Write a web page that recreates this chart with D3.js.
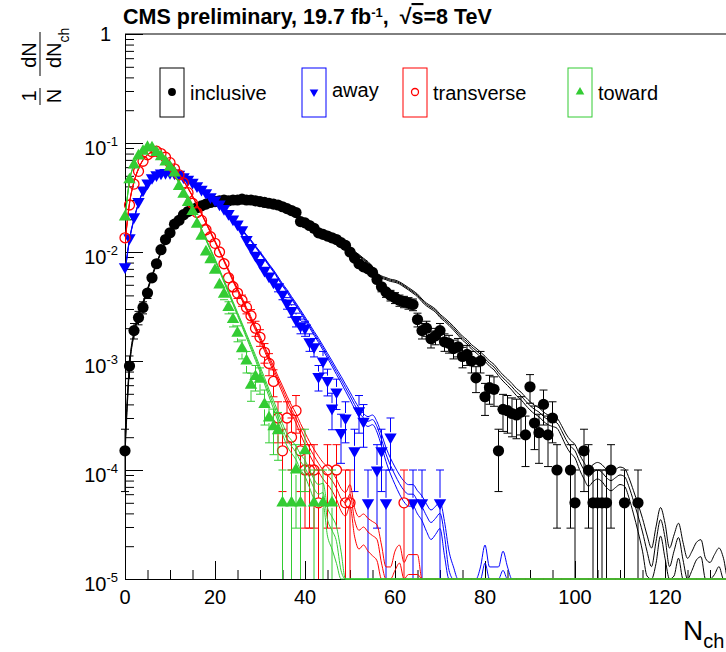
<!DOCTYPE html>
<html>
<head>
<meta charset="utf-8">
<script src="https://cdn.jsdelivr.net/npm/d3@7"></script>
<style>
  body { margin: 0; background: #fff; }
  svg { display: block; font-family: "Liberation Sans", Arial, Helvetica, sans-serif; }
</style>
</head>
<body>
<svg id="chart" width="726" height="652"></svg>
<script>
// ---- data: one value per Nch bin, starting at Nch = 0 (0 = empty bin) ----
const seriesNames = ["inclusive", "away", "transverse", "toward"];
const seriesColors = ["#000000", "#0000ff", "#ff0000", "#33cc33"];

const inclusiveData = [
  1.5e-4, 9e-4, 1.9e-3, 2.5e-3, 3.1e-3, 4.2e-3, 5.8e-3, 7.8e-3, 1.05e-2, 1.3e-2,
  1.5e-2, 1.8e-2, 1.95e-2, 2.2e-2, 2.35e-2, 2.45e-2, 2.55e-2, 2.65e-2, 2.75e-2, 2.85e-2,
  2.9e-2, 2.95e-2, 3.0e-2, 2.95e-2, 3.0e-2, 3.0e-2, 3.05e-2, 3.0e-2, 3.0e-2, 2.95e-2,
  2.9e-2, 2.85e-2, 2.8e-2, 2.75e-2, 2.7e-2, 2.6e-2, 2.5e-2, 2.4e-2, 2.3e-2, 1.9e-2,
  1.85e-2, 1.75e-2, 1.65e-2, 1.5e-2, 1.45e-2, 1.4e-2, 1.35e-2, 1.3e-2, 1.22e-2, 1.15e-2,
  1.0e-2, 8.8e-3, 7.8e-3, 7.3e-3, 7.0e-3, 6.5e-3, 5.6e-3, 4.8e-3, 4.3e-3, 4.0e-3,
  3.8e-3, 3.6e-3, 3.5e-3, 3.4e-3, 3.3e-3, 2.4e-3, 1.9e-3, 2.0e-3, 1.6e-3, 1.7e-3,
  1.9e-3, 1.5e-3, 1.45e-3, 1.3e-3, 1.35e-3, 1.1e-3, 1.15e-3, 1.0e-3, 7e-4, 1.0e-3,
  4.7e-4, 5.7e-4, 5.5e-4, 1.5e-4, 3.6e-4, 3.5e-4, 3.3e-4, 3.2e-4, 3.4e-4, 2.1e-4,
  5.8e-4, 2.7e-4, 2.2e-4, 4.0e-4, 2.1e-4, 3.0e-4, 1e-4, 0, 0, 1e-4,
  5e-5, 0, 1.5e-4, 1e-4, 5e-5, 5e-5, 5e-5, 5e-5, 1e-4, 0,
  0, 5e-5, 0, 0, 5e-5
];
const inclusiveModel = [
  1.6e-4, 9e-4, 1.8e-3, 2.6e-3, 3.4e-3, 4.5e-3, 6e-3, 7.8e-3, 1.0e-2, 1.25e-2,
  1.5e-2, 1.75e-2, 1.95e-2, 2.15e-2, 2.3e-2, 2.45e-2, 2.55e-2, 2.65e-2, 2.75e-2, 2.85e-2,
  2.9e-2, 2.95e-2, 3.0e-2, 3.0e-2, 3.0e-2, 3.0e-2, 3.0e-2, 2.95e-2, 2.9e-2, 2.85e-2,
  2.8e-2, 2.75e-2, 2.7e-2, 2.6e-2, 2.5e-2, 2.45e-2, 2.35e-2, 2.25e-2, 2.15e-2, 2.05e-2,
  1.95e-2, 1.85e-2, 1.75e-2, 1.65e-2, 1.55e-2, 1.45e-2, 1.38e-2, 1.3e-2, 1.22e-2, 1.15e-2,
  1.08e-2, 1.0e-2, 9.3e-3, 8.6e-3, 8.0e-3, 7.2e-3, 6.3e-3, 5.9e-3, 5.7e-3, 5.5e-3,
  5.4e-3, 5.2e-3, 4.9e-3, 4.6e-3, 4.3e-3, 4.0e-3, 3.6e-3, 3.3e-3, 3.1e-3, 2.9e-3,
  2.6e-3, 2.4e-3, 2.2e-3, 2.0e-3, 1.8e-3, 1.62e-3, 1.5e-3, 1.35e-3, 1.25e-3, 1.15e-3,
  1.05e-3, 9.5e-4, 8.8e-4, 7.8e-4, 7e-4, 6.4e-4, 5.8e-4, 5.2e-4, 4.8e-4, 4.3e-4,
  3.9e-4, 3.6e-4, 3.4e-4, 3.1e-4, 2.9e-4, 2.8e-4, 2.7e-4, 2.3e-4, 1.9e-4, 1.65e-4,
  1.5e-4, 1.2e-4, 1.0e-4, 8.7e-5, 9.5e-5, 1.0e-4, 9.5e-5, 8.5e-5, 8e-5, 8.5e-5,
  9e-5, 8.7e-5, 7e-5, 5.2e-5, 3.8e-5, 2.7e-5, 1.8e-5, 1.3e-5, 2.2e-5, 3.5e-5,
  2.4e-5, 1.3e-5, 1.8e-5, 2.4e-5, 1.5e-5, 1e-5, 1.2e-5, 1.5e-5, 1.6e-5, 1e-5,
  9e-6, 1.1e-5, 1.3e-5, 1e-5
];

const awayData = [
  7.3e-3, 1.35e-2, 2.1e-2, 2.9e-2, 3.7e-2, 4.3e-2, 4.8e-2, 5.1e-2, 5.3e-2, 5.35e-2,
  5.35e-2, 5.3e-2, 5.15e-2, 4.9e-2, 4.65e-2, 4.35e-2, 4.05e-2, 3.75e-2, 3.5e-2, 3.2e-2,
  3.0e-2, 2.75e-2, 2.5e-2, 2.25e-2, 2.0e-2, 1.8e-2, 1.6e-2, 1.3e-2, 1.1e-2, 9.3e-3,
  8e-3, 6.8e-3, 6.0e-3, 5.3e-3, 4.8e-3, 4.1e-3, 3.4e-3, 2.9e-3, 2.4e-3, 2.1e-3,
  2.0e-3, 1.5e-3, 1.35e-3, 7.2e-4, 1.0e-3, 6.6e-4, 3.7e-4, 5.2e-4, 2.2e-4, 3.0e-4,
  0, 1.5e-4, 3.5e-4, 2.8e-4, 5e-5, 0, 1e-4, 1.5e-4, 5e-5, 2e-4,
  0, 0, 0, 0, 5e-5, 0, 5e-5, 0, 0, 0,
  5e-5
];
const awayModel = [
  6.5e-3, 1.3e-2, 2.0e-2, 2.8e-2, 3.6e-2, 4.2e-2, 4.7e-2, 5.0e-2, 5.2e-2, 5.3e-2,
  5.3e-2, 5.2e-2, 5.05e-2, 4.85e-2, 4.6e-2, 4.35e-2, 4.05e-2, 3.75e-2, 3.45e-2, 3.15e-2,
  2.9e-2, 2.65e-2, 2.4e-2, 2.2e-2, 2.0e-2, 1.8e-2, 1.6e-2, 1.42e-2, 1.27e-2, 1.12e-2,
  9.9e-3, 8.7e-3, 7.6e-3, 6.7e-3, 5.8e-3, 5.0e-3, 4.4e-3, 3.8e-3, 3.3e-3, 2.85e-3,
  2.45e-3, 2.1e-3, 1.8e-3, 1.55e-3, 1.32e-3, 1.12e-3, 9.5e-4, 8e-4, 6.8e-4, 5.7e-4,
  4.8e-4, 4.0e-4, 3.4e-4, 3.0e-4, 2.8e-4, 2.9e-4, 2.5e-4, 1.9e-4, 1.4e-4, 1.1e-4,
  9e-5, 7.5e-5, 6.5e-5, 6e-5, 6e-5, 5.2e-5, 4.6e-5, 3.8e-5, 3.3e-5, 3.6e-5,
  4e-5, 2.5e-5, 1.2e-5, 8e-6, 0, 0, 0, 0, 0, 8e-6,
  1.4e-5, 8e-6, 8e-6, 8e-6, 1.2e-5, 8e-6
];

const transverseData = [
  1.35e-2, 2.7e-2, 4.2e-2, 5.5e-2, 6.8e-2, 7.8e-2, 8.3e-2, 8.4e-2, 8.0e-2, 7.4e-2,
  6.6e-2, 5.8e-2, 5.1e-2, 4.3e-2, 3.5e-2, 2.8e-2, 2.3e-2, 1.95e-2, 1.6e-2, 1.38e-2,
  1.2e-2, 1.0e-2, 7.8e-3, 5.8e-3, 4.8e-3, 4.2e-3, 3.6e-3, 3.1e-3, 2.6e-3, 2.0e-3,
  1.65e-3, 1.2e-3, 9.5e-4, 6.5e-4, 3.0e-4, 1.5e-4, 3.0e-4, 2.0e-4, 3.5e-4, 1.5e-4,
  1e-4, 1e-4, 1e-4, 5e-5, 0, 1e-4, 0, 1e-4, 0, 5e-5,
  5e-5, 0, 0, 0, 0, 0, 0, 0, 0, 0,
  0, 0, 5e-5
];
const transverseModel = [
  1.2e-2, 2.8e-2, 4.4e-2, 5.8e-2, 7.0e-2, 7.8e-2, 8.2e-2, 8.2e-2, 7.9e-2, 7.4e-2,
  6.7e-2, 6.0e-2, 5.2e-2, 4.5e-2, 3.85e-2, 3.25e-2, 2.7e-2, 2.25e-2, 1.85e-2, 1.52e-2,
  1.25e-2, 1.02e-2, 8.3e-3, 6.8e-3, 5.5e-3, 4.5e-3, 3.7e-3, 3.0e-3, 2.45e-3, 2.0e-3,
  1.62e-3, 1.3e-3, 1.05e-3, 8.5e-4, 6.8e-4, 5.5e-4, 4.4e-4, 3.6e-4, 3.0e-4, 2.4e-4,
  1.95e-4, 1.6e-4, 1.35e-4, 1.15e-4, 1.0e-4, 9e-5, 8e-5, 6.8e-5, 5.5e-5, 5e-5,
  6e-5, 3.5e-5, 2.8e-5, 3e-5, 2.7e-5, 2.5e-5, 2.3e-5, 1.4e-5, 8e-6, 8e-6,
  1.2e-5, 1.4e-5, 9e-6, 1.1e-5, 1.1e-5, 1.1e-5
];

const towardData = [
  2.1e-2, 4.6e-2, 6.3e-2, 7.6e-2, 8.4e-2, 9.1e-2, 9.0e-2, 8.2e-2, 7.5e-2, 6.7e-2,
  6.0e-2, 5.3e-2, 4.0e-2, 3.4e-2, 2.85e-2, 2.35e-2, 1.8e-2, 1.4e-2, 1.0e-2, 8.5e-3,
  6.8e-3, 5.0e-3, 4.1e-3, 3.1e-3, 2.4e-3, 1.8e-3, 1.3e-3, 1.0e-3, 6.0e-4, 7.2e-4,
  6.8e-4, 4.0e-4, 3.0e-4, 2.5e-4, 2.3e-4, 5e-5, 0, 5e-5, 1e-4, 5e-5,
  1.5e-4, 0, 5e-5, 0, 5e-5, 0, 5e-5
];
const towardModel = [
  2.0e-2, 4.5e-2, 6.3e-2, 7.7e-2, 8.6e-2, 9.0e-2, 8.9e-2, 8.4e-2, 7.7e-2, 6.9e-2,
  6.0e-2, 5.1e-2, 4.3e-2, 3.6e-2, 3.0e-2, 2.45e-2, 2.0e-2, 1.62e-2, 1.3e-2, 1.05e-2,
  8.5e-3, 6.8e-3, 5.4e-3, 4.3e-3, 3.4e-3, 2.7e-3, 2.15e-3, 1.7e-3, 1.35e-3, 1.07e-3,
  8.4e-4, 6.6e-4, 5.1e-4, 4e-4, 3.1e-4, 2.4e-4, 1.9e-4, 1.65e-4, 1.45e-4, 1.2e-4,
  1.05e-4, 8.5e-5, 6.8e-5, 6e-5, 6.2e-5, 3.5e-5, 2.8e-5, 2.2e-5, 1.2e-5
];

const xTicksMajor = [0, 20, 40, 60, 80, 100, 120, 140];
const xLabels = [0, 20, 40, 60, 80, 100, 120];
const yExponents = [0, -1, -2, -3, -4, -5];
const eventWeight = 5e-5;   // weight of one event (lowest filled bins)
const modelWeight = 3e-6;   // weight of one simulated event (model band spread)

// ---- layout ----
var svg = d3.select("#chart");
var frame = { left: 125, top: 34, bottom: 579, right: 726 };

var x = d3.scaleLinear()
  .domain([0, 140])
  .range([frame.left, frame.left + 140 * 4.5]);

var y = d3.scaleLog()
  .domain([1e-5, 1])
  .range([frame.bottom, frame.top]);

const floorY = v => y(Math.max(v, 1e-5));

// ---- frame and axes ----
// minor y ticks 2..9 per decade
var yMinor = [];
yExponents.slice(1).forEach(e => {
  for (let k = 2; k <= 9; k++) yMinor.push(k * Math.pow(10, e));
});
var yMajor = yExponents.map(e => Math.pow(10, e));

svg.append("g")
  .attr("transform", `translate(${frame.left},0)`)
  .call(d3.axisRight(y).tickValues(yMinor).tickSize(9).tickSizeOuter(0).tickFormat(""));
svg.append("g")
  .attr("transform", `translate(${frame.left},0)`)
  .call(d3.axisRight(y).tickValues(yMajor).tickSize(18).tickSizeOuter(0).tickFormat(""));

var xMinor = d3.range(0, 141, 5).filter(v => v % 20 !== 0);
svg.append("g")
  .attr("transform", `translate(0,${frame.bottom})`)
  .call(d3.axisTop(x).tickValues(xMinor).tickSize(9).tickSizeOuter(0).tickFormat(""));
svg.append("g")
  .attr("transform", `translate(0,${frame.bottom})`)
  .call(d3.axisTop(x).tickValues(xTicksMajor).tickSize(18).tickSizeOuter(0).tickFormat(""));

svg.selectAll(".domain, .tick line").attr("stroke", "#000").attr("stroke-width", 1);

// top frame line
svg.append("line")
  .attr("x1", frame.left).attr("x2", x(140))
  .attr("y1", frame.top).attr("y2", frame.top)
  .attr("stroke", "#000");

// x tick labels
svg.append("g").selectAll("text")
  .data(xLabels)
  .enter().append("text")
  .attr("x", d => x(d))
  .attr("y", 604)
  .attr("text-anchor", "middle")
  .style("font-size", "20px")
  .text(d => d);

// y tick labels (powers of ten)
var yLab = svg.append("g").selectAll("text")
  .data(yExponents)
  .enter().append("text")
  .attr("x", d => d === 0 ? 111 : 118)
  .attr("y", d => y(Math.pow(10, d)) + (d === 0 ? 7 : 12))
  .attr("text-anchor", "end")
  .style("font-size", "20px");
yLab.filter(d => d === 0).text("1");
yLab.filter(d => d !== 0).each(function (d) {
  const t = d3.select(this);
  t.append("tspan").text("10");
  t.append("tspan").attr("dy", -9).style("font-size", "13px").text(d);
});

// ---- titles ----
var title = svg.append("text")
  .attr("x", 123).attr("y", 24)
  .style("font-size", "21.5px").style("font-weight", "bold");
title.append("tspan").text("CMS preliminary, 19.7 fb");
title.append("tspan").attr("dy", -7).style("font-size", "13px").text("-1");
title.append("tspan").attr("dy", 7).text(",");
title.append("tspan").attr("dx", 11).text("\u221A");
title.append("tspan").style("text-decoration", "overline").text("s");
title.append("tspan").text("=8 TeV");

var xTitle = svg.append("text").attr("x", 683).attr("y", 640).style("font-size", "28px");
xTitle.append("tspan").text("N");
xTitle.append("tspan").attr("dy", 8).style("font-size", "20px").text("ch");

// rotated y title: 1/N dN/dNch
function vtext(px, py, anchor, size) {
  return svg.append("text")
    .attr("transform", `translate(${px},${py}) rotate(-90)`)
    .attr("text-anchor", anchor)
    .style("font-size", size + "px");
}
vtext(36, 96, "middle", 20).text("1");
vtext(61, 96, "middle", 20).text("N");
vtext(36, 55, "middle", 20).text("dN");
var den = vtext(61, 68, "start", 20);
den.append("tspan").text("dN");
den.append("tspan").attr("dy", 8).style("font-size", "14px").text("ch");
svg.append("line").attr("x1", 40).attr("x2", 40).attr("y1", 88).attr("y2", 105).attr("stroke", "#000");
svg.append("line").attr("x1", 40).attr("x2", 40).attr("y1", 32).attr("y2", 76).attr("stroke", "#000");

// ---- series ----
const series = seriesNames.map((name, i) => ({
  name: name,
  color: seriesColors[i],
  data: [inclusiveData, awayData, transverseData, towardData][i],
  model: [inclusiveModel, awayModel, transverseModel, towardModel][i]
}));

function marker(sel, name, color, big) {
  const s = big ? 1 : 0.7;
  if (name === "inclusive") {
    sel.append("circle").attr("r", 5.6 * s).attr("fill", color);
  } else if (name === "transverse") {
    sel.append("circle").attr("r", 5 * s).attr("fill", "none")
      .attr("stroke", color).attr("stroke-width", 1.3);
  } else {
    sel.append("path")
      .attr("d", d3.symbol().type(d3.symbolTriangle).size(66 * s * s)())
      .attr("transform", name === "away" ? "rotate(180)" : null)
      .attr("fill", color);
  }
}

svg.append("clipPath").attr("id", "plotClip")
  .append("rect")
  .attr("x", frame.left).attr("y", frame.top - 1)
  .attr("width", frame.right - frame.left).attr("height", frame.bottom - frame.top + 2);

var layer = svg.append("g");

series.forEach(s => {
  const g = layer.append("g");

  // data points with statistical error bars
  const pts = s.data.map((v, i) => ({ n: i, v: v })).filter(d => d.v > 0);
  const r = 5;
  const bars = g.append("g").attr("stroke", s.color).attr("stroke-width", 1).attr("fill", "none");
  pts.forEach(d => {
    const err = Math.sqrt(d.v * eventWeight);
    const cx = x(d.n), cy = y(d.v);
    const yHi = y(d.v + err);
    const lo = d.v - err;
    const yLo = lo > 1e-5 ? y(lo) : y(1e-5);
    let path = "";
    if (yHi < cy - r) path += `M${cx},${cy - r}V${yHi}M${cx - 4},${yHi}H${cx + 4}`;
    if (yLo > cy + r) {
      path += `M${cx},${cy + r}V${yLo}`;
      if (lo > 1e-5) path += `M${cx - 4},${yLo}H${cx + 4}`;
    }
    if (path) bars.append("path").attr("d", path);
  });
  g.append("g").selectAll("g")
    .data(pts)
    .enter().append("g")
    .attr("transform", d => `translate(${x(d.n)},${y(d.v)})`)
    .each(function () { marker(d3.select(this), s.name, s.color, true); });

  // model band: three lines, continued along the floor to the axis end
  const n = d3.range(0, 141);
  const mv = n.map(i => s.model[i] || 0);
  [-1, 0, 1].forEach(side => {
    const line = d3.line()
      .x((d, i) => x(n[i]))
      .y(d => {
        if (d <= 0) return y(1e-5);
        const delta = Math.min(0.9, Math.sqrt(modelWeight / d));
        return floorY(d * (1 + side * delta));
      })
      .curve(d3.curveMonotoneX);
    g.append("path")
      .attr("clip-path", "url(#plotClip)")
      .attr("d", line(mv))
      .attr("fill", "none")
      .attr("stroke", s.color)
      .attr("stroke-width", 1);
  });
});

// ---- legend ----
const legendX = [160, 302, 403, 568];
series.forEach((s, i) => {
  svg.append("rect")
    .attr("x", legendX[i]).attr("y", 68)
    .attr("width", 24).attr("height", 49)
    .attr("fill", "none").attr("stroke", s.color).attr("stroke-width", 1);
  const m = svg.append("g").attr("transform", `translate(${legendX[i] + 12},92)`);
  marker(m, s.name, s.color, false);
  svg.append("text")
    .attr("x", legendX[i] + 30).attr("y", i === 1 ? 97 : 100)
    .style("font-size", "20px")
    .text(s.name);
});
</script>
</body>
</html>
